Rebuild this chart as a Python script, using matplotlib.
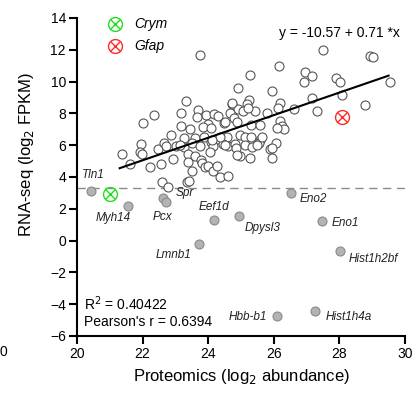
import matplotlib
matplotlib.use("Agg")
import matplotlib.pyplot as plt
import numpy as np

plt.rcParams['font.family'] = ['Liberation Sans', 'DejaVu Sans']

# open circles: proteomics vs RNA-seq (above threshold)
x_open = [23.75, 27.51, 28.93, 29.03, 26.17, 25.27, 26.95, 27.15, 26.92, 27.9, 28.02, 29.54,
          24.92, 25.96, 27.15, 28.07, 25.25, 25.17, 23.32, 28.78, 27.31, 26.63, 26.19, 26.14,
          24.73, 24.9, 25.05, 25.42, 25.8, 23.7, 23.93, 24.18, 24.31, 24.66, 23.17, 23.67,
          22.36, 22.0, 23.16, 24.0, 23.85, 23.45, 24.1, 24.49, 24.8, 25.3, 25.58, 26.19,
          26.24, 26.31, 26.1, 22.87, 23.25, 23.6, 23.87, 24.26, 24.56, 24.97, 25.12, 25.3,
          25.58, 21.94, 22.48, 22.66, 22.71, 23.02, 23.26, 24.09, 24.16, 24.46, 24.61, 24.82,
          24.84, 25.12, 25.32, 25.88, 26.08, 25.56, 21.92, 21.97, 21.36, 21.62, 22.23, 22.56,
          22.92, 23.39, 23.6, 23.39, 23.78, 23.8, 23.5, 23.9, 24.0, 24.14, 24.28, 24.36,
          24.59, 24.97, 25.27, 24.05, 22.58, 22.78, 23.34, 23.42,
          24.72, 25.22, 24.87, 24.51, 24.36, 25.63, 24.51, 25.48, 25.94, 25.94, 24.87, 24.12,
          23.14, 23.5, 23.75]
y_open = [11.68, 11.99, 11.64, 11.53, 11.0, 10.42, 10.63, 10.36, 10.0, 10.25, 10.0, 9.98,
          9.58, 9.43, 8.99, 9.16, 8.85, 8.6, 8.8, 8.53, 8.15, 8.28, 8.68, 8.36,
          8.6, 8.3, 8.18, 8.13, 8.01, 8.22, 7.9, 7.95, 7.86, 8.0, 8.05, 7.76,
          7.9, 7.38, 7.23, 7.34, 7.13, 7.0, 7.06, 7.42, 7.69, 7.27, 7.27, 7.55,
          7.21, 7.0, 7.1, 6.65, 6.48, 6.44, 6.54, 6.37, 6.54, 6.65, 6.54, 6.54,
          6.33, 6.08, 5.77, 6.12, 5.97, 5.97, 5.87, 6.23, 5.97, 6.08, 5.97, 6.08,
          5.81, 6.02, 5.91, 5.77, 6.12, 6.16, 5.6, 5.45, 5.45, 4.82, 4.61, 4.82,
          5.12, 5.45, 5.32, 4.97, 5.07, 4.86, 4.4, 4.61, 4.72, 4.4, 4.72, 4.03,
          4.09, 5.32, 5.18, 5.6, 3.71, 3.35, 3.71, 3.76,
          8.64, 8.33, 7.48, 7.48, 6.54, 6.54, 6.02, 6.02, 5.81, 5.22, 5.39, 6.35,
          6.02, 6.12, 5.97]

# grey filled points (below threshold), with gene names
genes = ['Tln1', 'Myh14', 'Spr', 'Pcx', 'Eef1d', 'Dpysl3', 'Lmnb1', 'Eno2', 'Eno1',
         'Hist1h2bf', 'Hbb-b1', 'Hist1h4a']
x_low = [20.43, 21.56, 22.63, 22.70, 24.18, 24.94, 23.72, 26.52, 27.47, 28.02, 26.11, 27.26]
y_low = [3.14, 2.20, 2.66, 2.45, 1.30, 1.57, -0.21, 3.02, 1.26, -0.63, -4.72, -4.40]
label_x = [20.49, 21.10, 23.30, 22.62, 24.18, 25.67, 22.93, 27.20, 28.17, 29.03, 25.20, 28.30]
label_y = [4.12, 1.43, 3.00, 1.49, 2.12, 0.80, -0.90, 2.62, 1.11, -1.15, -4.80, -4.80]

# highlighted genes
hl_names = ['Crym', 'Gfap']
hl_x = [21.01, 28.07]
hl_y = [2.94, 7.76]
hl_colors = ['#22dd22', '#ff2a2a']

intercept, slope = -10.57, 0.71
fit_range = [21.3, 29.5]
threshold = 3.32
r2 = 0.40422
pearson = 0.6394

fig = plt.figure(figsize=(4.19, 3.98), dpi=100)
ax = fig.add_axes([0.1838, 0.1558, 0.7828, 0.799])

ax.axhline(threshold, color='#8a8a8a', lw=1.0, ls=(0, (6, 4)), zorder=1)

ax.scatter(x_open, y_open, s=42, facecolors='white', edgecolors='#555555',
           linewidths=0.8, zorder=3)

xf = np.array(fit_range)
ax.plot(xf, intercept + slope * xf, color='black', lw=1.5, zorder=4)

ax.scatter(x_low, y_low, s=42, facecolors='#b3b3b3', edgecolors='#8a8a8a',
           linewidths=0.8, zorder=3)
for g, lx, ly in zip(genes, label_x, label_y):
    ax.text(lx, ly, g, fontsize=8.5, style='italic', ha='center', va='center', color='#222222')

for n, hx, hy, c in zip(hl_names, hl_x, hl_y, hl_colors):
    ax.plot(hx, hy, marker='o', ms=10, mfc='none', mec=c, mew=1.0, zorder=5)
    ax.plot(hx, hy, marker='x', ms=7, mec=c, mew=1.0, zorder=5)

# legend (manual)
leg_y = [13.6, 12.25]
for n, ly, c in zip(hl_names, leg_y, hl_colors):
    ax.plot(21.15, ly, marker='o', ms=10, mfc='none', mec=c, mew=1.0, clip_on=False)
    ax.plot(21.15, ly, marker='x', ms=7, mec=c, mew=1.0, clip_on=False)
    ax.text(21.75, ly, n, fontsize=10, style='italic', ha='left', va='center')

ax.text(29.85, 13.05, 'y = -10.57 + 0.71 *x', fontsize=10, ha='right', va='center')
ax.text(20.2, -4.0, 'R$^2$ = %.5f' % r2, fontsize=10, ha='left', va='center')
ax.text(20.2, -5.15, "Pearson's r = %.4f" % pearson, fontsize=10, ha='left', va='center')

ax.set_xlim(20, 30)
ax.set_ylim(-6, 14)
ax.set_xticks(np.arange(20, 31, 2))
ax.set_yticks(np.arange(-6, 15, 2))
for s in ['top', 'right']:
    ax.spines[s].set_visible(False)
for s in ['left', 'bottom']:
    ax.spines[s].set_linewidth(1.5)
ax.tick_params(direction='out', length=6, width=1.5, labelsize=10, pad=2)

ax.set_xlabel('Proteomics (log$_2$ abundance)', fontsize=12, labelpad=4)
ax.set_ylabel('RNA-seq (log$_2$ FPKM)', fontsize=12)
ax.yaxis.set_label_coords(-0.125, 0.57)

fig.text(0.0, 1 - 352 / 398, '0', fontsize=10, ha='left', va='center')

fig.savefig('out.png', dpi=100)
